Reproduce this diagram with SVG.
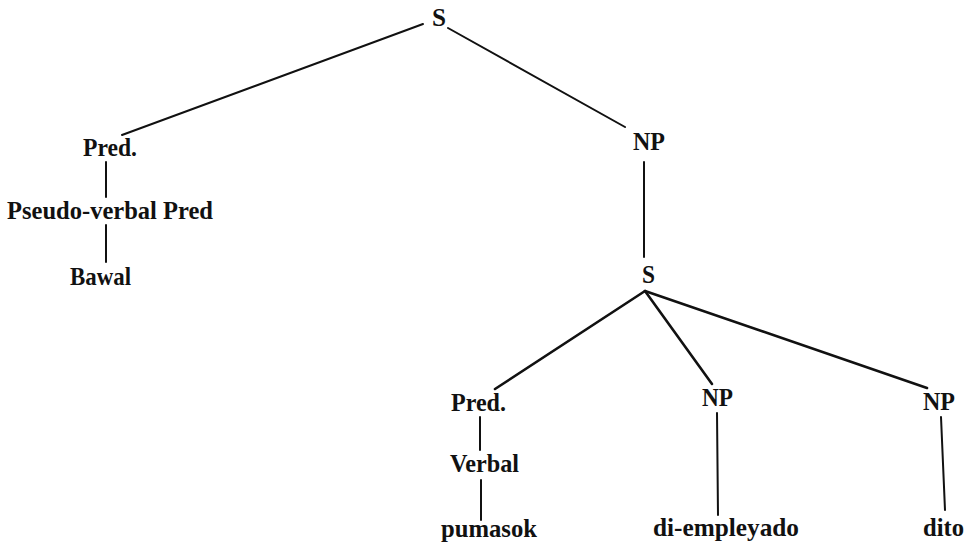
<svg xmlns="http://www.w3.org/2000/svg" width="971" height="546" viewBox="0 0 971 546">
  <style>
    .lbl { font-family: "Liberation Serif", "Times New Roman", serif; font-weight: bold; font-size: 26px; fill: #111; }
    .edge { stroke: #111; stroke-width: 2; stroke-linecap: round; fill: none; }
    .edge.heavy { stroke-width: 2.6; }
  </style>
  <rect width="971" height="546" fill="#fff"/>

  <!-- connectors -->
  <g id="connectors">
    <line class="edge" x1="423" y1="24" x2="122" y2="135"/>
    <line class="edge" x1="448" y1="28" x2="625" y2="127"/>
    <line class="edge" x1="106" y1="162" x2="106" y2="197"/>
    <line class="edge" x1="106" y1="225" x2="106" y2="262"/>
    <line class="edge" x1="644" y1="162" x2="644" y2="257"/>
    <line class="edge heavy" x1="645" y1="291" x2="495" y2="389"/>
    <line class="edge heavy" x1="645" y1="291" x2="712" y2="384"/>
    <line class="edge heavy" x1="645" y1="291" x2="927" y2="388"/>
    <line class="edge" x1="480" y1="417" x2="480" y2="450"/>
    <line class="edge" x1="481" y1="480" x2="481" y2="520"/>
    <line class="edge" x1="717" y1="413" x2="718" y2="515"/>
    <line class="edge" x1="941" y1="417" x2="945" y2="510"/>
  </g>

  <!-- nodes -->
  <g id="s-root"><text class="lbl" x="432" y="26" textLength="14" lengthAdjust="spacingAndGlyphs">S</text></g>
  <g id="pred-1"><text class="lbl" x="83" y="156" textLength="54" lengthAdjust="spacingAndGlyphs">Pred.</text></g>
  <g id="pseudo-verbal-pred"><text class="lbl" x="7" y="219" textLength="206" lengthAdjust="spacingAndGlyphs">Pseudo-verbal Pred</text></g>
  <g id="bawal"><text class="lbl" x="70" y="285" textLength="61" lengthAdjust="spacingAndGlyphs">Bawal</text></g>
  <g id="np-1"><text class="lbl" x="633" y="150" textLength="32" lengthAdjust="spacingAndGlyphs">NP</text></g>
  <g id="s-embedded"><text class="lbl" x="642" y="283" textLength="13" lengthAdjust="spacingAndGlyphs">S</text></g>
  <g id="pred-2"><text class="lbl" x="451" y="411" textLength="55" lengthAdjust="spacingAndGlyphs">Pred.</text></g>
  <g id="np-2"><text class="lbl" x="702" y="406" textLength="31" lengthAdjust="spacingAndGlyphs">NP</text></g>
  <g id="np-3"><text class="lbl" x="923" y="410" textLength="32" lengthAdjust="spacingAndGlyphs">NP</text></g>
  <g id="verbal"><text class="lbl" x="450" y="472" textLength="69" lengthAdjust="spacingAndGlyphs">Verbal</text></g>
  <g id="pumasok"><text class="lbl" x="441" y="537" textLength="96" lengthAdjust="spacingAndGlyphs">pumasok</text></g>
  <g id="di-empleyado"><text class="lbl" x="653" y="536" textLength="146" lengthAdjust="spacingAndGlyphs">di-empleyado</text></g>
  <g id="dito"><text class="lbl" x="923" y="536" textLength="41" lengthAdjust="spacingAndGlyphs">dito</text></g>
</svg>
